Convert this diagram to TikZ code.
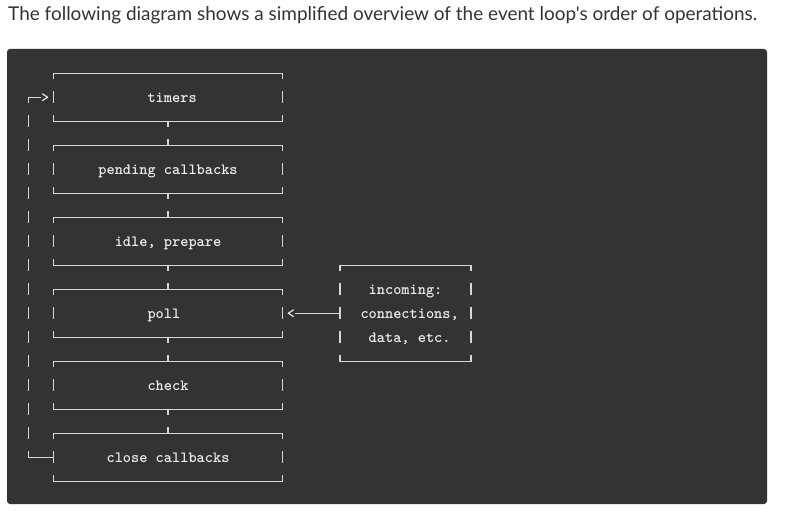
\documentclass[tikz,border=0pt]{standalone}
\usepackage{fontspec}
\usetikzlibrary{fit}
\newfontfamily\headfont{Lato}
\definecolor{codebg}{HTML}{333333}
\definecolor{glyph}{HTML}{D6D6D6}
\definecolor{codetext}{HTML}{EDEDED}
\definecolor{headtext}{HTML}{333333}
\tikzset{
  ascii/.style={draw=glyph, line width=1.3pt, line cap=butt},
  frame/.style={inner sep=0pt, outer sep=0pt, draw=none},
  txt/.style={anchor=base, inner sep=0pt, outer sep=0pt, text=codetext,
    font=\ttfamily\bfseries\fontsize{15.6}{18}\selectfont, yshift=-4.8pt},
}
\begin{document}
\begin{tikzpicture}[x=1pt,y=-1pt]
\useasboundingbox (0,0) rectangle (786,513);
\node[anchor=base west, inner sep=0pt, text=headtext] (heading) at (8,20.7)
  {\resizebox{749pt}{!}{\headfont\fontsize{20}{24}\selectfont The following diagram shows a simplified overview of the event loop{\char"0027}s order of operations.}};
\fill[codebg, rounded corners=3pt] (7,49) rectangle (767,504);
\begin{scope}[shift={(28.8pt,-73.3pt)}, x=8.19pt, y=-24pt]
  % boxes
  \foreach \n/\a/\b/\t/\u in {timers/3/31/0/2, pending/3/31/3/5, idle/3/31/6/8,
      poll/3/31/9/11, check/3/31/12/14, close/3/31/15/17, incoming/38/54/8/12}{
    \path (\a,\t) coordinate (\n-nw) (\b,\u) coordinate (\n-se);
    \node[frame, fit=(\n-nw)(\n-se)] (\n) {};
    \draw[ascii] ([yshift=-6pt]\n.north west) -- (\n.north west) -- (\n.north east) -- ([yshift=-6pt]\n.north east);
    \draw[ascii] ([yshift=6pt]\n.south west) -- (\n.south west) -- (\n.south east) -- ([yshift=6pt]\n.south east);
    \pgfmathtruncatemacro\ta{\t+1}
    \pgfmathtruncatemacro\ub{\u-1}
    \foreach \r in {\ta,...,\ub}{
      \draw[ascii] (\a,\r) ++(0,6pt) -- ++(0,-12pt);
      \draw[ascii] (\b,\r) ++(0,6pt) -- ++(0,-12pt);
    }
  }
  % labels
  \node[txt] (timers-t) at (17.5,1) {timers};
  \node[txt] (pending-t) at (17,4) {pending callbacks};
  \node[txt] (idle-t) at (17,7) {idle, prepare};
  \node[txt] (poll-t) at (16.5,10) {poll};
  \node[txt] (check-t) at (17,13) {check};
  \node[txt] (close-t) at (17,16) {close callbacks};
  \node[txt] (incoming-t1) at (46,9) {incoming:};
  \node[txt] (incoming-t2) at (46.5,10) {connections,};
  \node[txt] (incoming-t3) at (46.5,11) {data, etc.};
  % connectors between successive boxes
  \foreach \p/\q in {timers/pending, pending/idle, idle/poll, poll/check, check/close}{
    \draw[ascii] (\p.south) -- ++(0,-6pt);
    \draw[ascii] (\q.north) -- ++(0,6pt);
  }
  % incoming arrow
  \node[txt] (lt) at (32,10) {<};
  \draw[ascii] (incoming.west) -- (lt.east |- incoming.west);
  % loop back
  \coordinate (loopTop) at (0,1);
  \coordinate (loopBot) at (0,16);
  \node[txt] (gt) at (2,1) {>};
  \draw[ascii] (loopTop) ++(0,-6pt) -- (loopTop) -- (gt.west |- loopTop);
  \foreach \r in {2,...,15}{
    \draw[ascii] (0,\r) ++(0,6pt) -- ++(0,-12pt);
  }
  \draw[ascii] (loopBot) ++(0,6pt) -- (loopBot) -- (close.west);
\end{scope}
\end{tikzpicture}
\end{document}
